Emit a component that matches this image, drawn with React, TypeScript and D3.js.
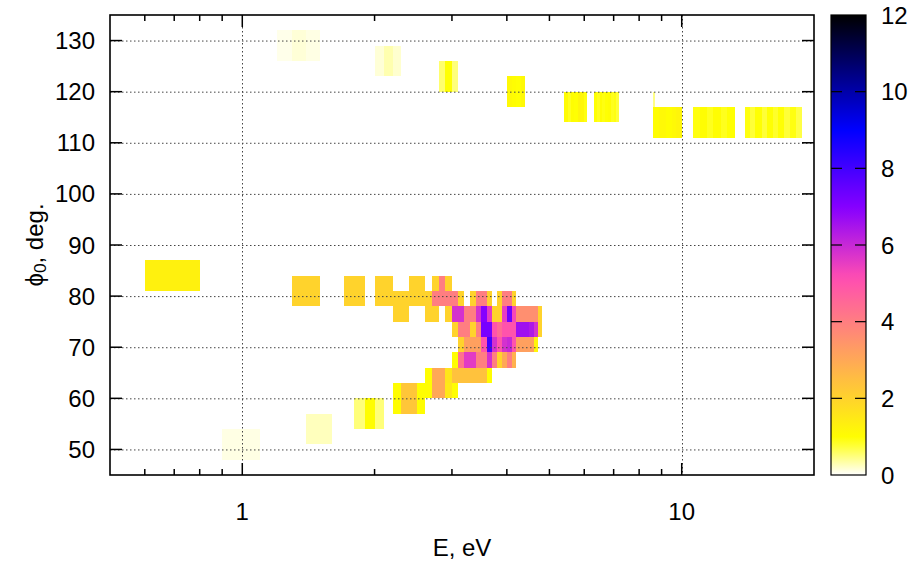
import React from 'react';
import * as d3 from 'd3';

// ---------- data ----------
const xTicksMajor = [1, 10];
const xTicksMinor = [0.6, 0.7, 0.8, 0.9, 2, 3, 4, 5, 6, 7, 8, 9];
const yTicks = [50, 60, 70, 80, 90, 100, 110, 120, 130];
const cbTicks = [0, 2, 4, 6, 8, 10, 12];

// 6-degree tall blocks: [E start, E end, phi low edge, value]
const lowBranch: [number, number, number, number][] = [
  [0.9, 1.1, 48, 0.1],
  [1.4, 1.6, 51, 0.25],
  [1.8, 1.9, 54, 0.5], [1.9, 2.0, 54, 1.0], [2.0, 2.1, 54, 0.5],
  [2.2, 2.3, 57, 1.0], [2.3, 2.5, 57, 2.3], [2.5, 2.6, 57, 1.0],
];
const midBlocks: [number, number, number, number][] = [
  [0.6, 0.8, 81, 1.3],
  [1.3, 1.5, 78, 2.0], [1.7, 1.9, 78, 2.0], [2.0, 2.2, 78, 2.0],
  [2.2, 2.4, 75, 2.0], [2.4, 2.6, 78, 2.0], [2.6, 2.7, 75, 2.0],
];
const topBranch: [number, number, number, number][] = [
  [1.2, 1.3, 126, 0.08], [1.3, 1.4, 126, 0.15], [1.4, 1.5, 126, 0.1],
  [2.0, 2.1, 123, 0.15], [2.1, 2.2, 123, 0.3], [2.2, 2.3, 123, 0.18],
  [2.8, 2.9, 120, 0.55], [2.9, 3.0, 120, 0.95], [3.0, 3.1, 120, 0.5],
  [4.0, 4.1, 117, 1.1], [4.1, 4.2, 117, 1.0], [4.2, 4.3, 117, 0.95], [4.3, 4.4, 117, 1.1],
];
// stripes at phi 114-120: [E start, E end, value]
const stripes114: [number, number, number][] = [
  [5.4, 5.5, 1.05], [5.5, 5.6, 0.85], [5.6, 5.7, 1.0], [5.7, 5.8, 0.95], [5.8, 5.9, 1.2], [5.9, 6.0, 1.15], [6.0, 6.1, 0.9],
  [6.3, 6.4, 0.95], [6.4, 6.5, 0.85], [6.5, 6.6, 1.0], [6.6, 6.7, 0.9], [6.7, 6.8, 0.95], [6.8, 6.9, 1.0], [6.9, 7.0, 0.85], [7.0, 7.1, 0.9], [7.1, 7.2, 0.75],
];
// stripes at phi 111-117
const stripes111: [number, number, number][] = [
  [8.6, 8.9, 1.0], [8.9, 9.2, 1.1], [9.2, 9.5, 1.0], [9.5, 9.7, 1.1], [9.7, 10.0, 1.2],
  [10.6, 11.0, 0.9], [11.0, 11.4, 1.0], [11.4, 11.8, 0.85], [11.8, 12.3, 1.0], [12.3, 12.7, 0.85], [12.7, 13.2, 0.95],
  [13.9, 14.3, 0.9], [14.3, 14.7, 0.75], [14.7, 15.2, 0.95], [15.2, 15.6, 0.75], [15.6, 16.1, 0.95], [16.1, 16.6, 0.8],
  [16.6, 17.1, 0.95], [17.1, 17.6, 0.75], [17.6, 18.2, 0.9], [18.2, 18.8, 0.7],
];
// 3-degree rows, cells 0.1 eV wide: [E start, value]
const row117: [number, number][] = [[8.6, 0.45]];
const row81: [number, number][] = [[2.7, 2.0], [2.8, 4.0], [2.9, 2.0]];
const row78: [number, number][] = [[2.7, 4.0], [2.8, 4.0], [2.9, 4.0], [3.0, 4.0], [3.1, 2.0], [3.3, 2.0], [3.4, 4.0], [3.5, 4.0], [3.6, 2.0], [3.8, 2.0], [3.9, 4.0], [4.0, 4.0], [4.1, 2.0]];
const row75: [number, number][] = [[2.7, 2.0], [2.9, 2.0], [3.0, 5.8], [3.1, 5.8], [3.2, 4.0], [3.3, 4.0], [3.4, 5.8], [3.5, 7.0], [3.6, 5.6], [3.7, 2.0], [3.8, 2.0], [3.9, 5.5], [4.0, 7.3], [4.1, 5.3], [4.2, 3.6], [4.3, 3.6], [4.4, 3.6], [4.5, 3.6], [4.6, 3.6], [4.7, 2.0]];
const row72: [number, number][] = [[3.0, 2.0], [3.1, 4.0], [3.2, 4.0], [3.3, 2.0], [3.4, 4.0], [3.5, 7.2], [3.6, 7.2], [3.7, 5.0], [3.8, 4.5], [3.9, 5.0], [4.0, 5.0], [4.1, 5.0], [4.2, 6.6], [4.3, 6.6], [4.4, 6.6], [4.5, 6.4], [4.6, 5.8], [4.7, 2.0]];
const row69: [number, number][] = [[3.1, 2.0], [3.2, 3.2], [3.3, 3.2], [3.4, 3.2], [3.5, 5.0], [3.6, 8.0], [3.7, 5.8], [3.8, 5.0], [3.9, 5.8], [4.0, 6.0], [4.1, 5.0], [4.2, 3.2], [4.3, 3.2], [4.4, 3.2], [4.5, 3.2], [4.6, 1.2]];
const row66: [number, number][] = [[3.0, 1.0], [3.1, 4.3], [3.2, 5.6], [3.3, 5.6], [3.4, 4.0], [3.5, 4.0], [3.6, 5.8], [3.7, 4.0], [3.8, 2.0], [3.9, 3.0], [4.0, 4.0], [4.1, 2.8]];
const row63: [number, number][] = [[2.6, 1.0], [2.7, 3.0], [2.8, 3.0], [2.9, 1.6], [3.0, 2.4], [3.1, 2.4], [3.2, 2.4], [3.3, 2.4], [3.4, 2.4], [3.5, 2.4], [3.6, 1.0]];
const row60: [number, number][] = [[2.6, 1.0], [2.7, 3.0], [2.8, 3.0], [2.9, 1.5], [3.0, 1.0]];

const rows: [number, [number, number][]][] = [
  [117, row117], [81, row81], [78, row78], [75, row75], [72, row72],
  [69, row69], [66, row66], [63, row63], [60, row60],
];

// ---------- layout ----------
const W = 922, H = 563;
const L = 110, R = 814, T = 15, B = 475;
const CB_L = 831, CB_R = 866;
const FONT = "'Liberation Sans', Arial, Helvetica, sans-serif";
const FS = 24;

const x = d3.scaleLog().domain([0.5, 20]).range([L, R]);
const y = d3.scaleLinear().domain([45, 135]).range([B, T]);
const cb = d3.scaleLinear().domain([0, 12]).range([B, T]);

// gnuplot rgbformulae 30,31,32, negative
function palette(v: number): string {
  const c = (t: number) => Math.max(0, Math.min(1, t));
  const g0 = 1 - c(v / 12);
  const r = c(g0 / 0.32 - 0.78125);
  const g = c(2 * g0 - 0.84);
  let b: number;
  if (g0 < 0.25) b = 4 * g0;
  else if (g0 < 0.42) b = 1;
  else if (g0 < 0.92) b = -2 * g0 + 1.84;
  else b = g0 / 0.08 - 11.5;
  b = c(b);
  return d3.rgb(r * 255, g * 255, b * 255).formatHex();
}

type Cell = { e0: number; e1: number; p0: number; p1: number; v: number };

function buildCells(): Cell[] {
  const cells: Cell[] = [];
  for (const [e0, e1, p, v] of [...lowBranch, ...midBlocks, ...topBranch]) cells.push({ e0, e1, p0: p, p1: p + 6, v });
  for (const [e0, e1, v] of stripes114) cells.push({ e0, e1, p0: 114, p1: 120, v });
  for (const [e0, e1, v] of stripes111) cells.push({ e0, e1, p0: 111, p1: 117, v });
  for (const [p, arr] of rows) for (const [e, v] of arr) cells.push({ e0: e, e1: +(e + 0.1).toFixed(2), p0: p, p1: p + 3, v });
  return cells;
}

export default function App() {
  const cells = buildCells();
  const gridStyle = { stroke: '#444', strokeWidth: 1, strokeDasharray: '1.5,2.5' };
  const stops = d3.range(0, 12.01, 0.25);
  return (
    <svg width={W} height={H} style={{ position: 'absolute', left: 0, top: 0, background: '#fff' }} fontFamily={FONT}>
      <defs>
        <linearGradient id="cbgrad" x1="0" y1="1" x2="0" y2="0">
          {stops.map((v) => (
            <stop key={v} offset={v / 12} stopColor={palette(v)} />
          ))}
        </linearGradient>
      </defs>
      <rect x={0} y={0} width={W} height={H} fill="#fff" />
      {/* cells */}
      <g>
        {cells.map((c, i) => {
          const x0 = Math.round(x(c.e0)), x1 = Math.round(x(c.e1));
          const y0 = Math.round(y(c.p1)), y1 = Math.round(y(c.p0));
          return <rect key={i} x={x0} y={y0} width={x1 - x0} height={y1 - y0} fill={palette(c.v)} />;
        })}
      </g>
      {/* grid */}
      <g>
        {yTicks.map((t) => (
          <line key={'gy' + t} x1={L} x2={R} y1={y(t) + 0.5} y2={y(t) + 0.5} style={gridStyle} />
        ))}
        {xTicksMajor.map((t) => (
          <line key={'gx' + t} x1={Math.round(x(t)) + 0.5} x2={Math.round(x(t)) + 0.5} y1={T} y2={B} style={gridStyle} />
        ))}
      </g>
      {/* ticks */}
      <g stroke="#000" strokeWidth={1.5}>
        {yTicks.map((t) => (
          <g key={'ty' + t}>
            <line x1={L} x2={L + 12} y1={y(t)} y2={y(t)} />
            <line x1={R} x2={R - 12} y1={y(t)} y2={y(t)} />
          </g>
        ))}
        {xTicksMajor.map((t) => (
          <g key={'tx' + t}>
            <line x1={x(t)} x2={x(t)} y1={B} y2={B - 12} />
            <line x1={x(t)} x2={x(t)} y1={T} y2={T + 12} />
          </g>
        ))}
        {xTicksMinor.map((t) => (
          <g key={'tm' + t}>
            <line x1={x(t)} x2={x(t)} y1={B} y2={B - 6} />
            <line x1={x(t)} x2={x(t)} y1={T} y2={T + 6} />
          </g>
        ))}
      </g>
      <rect x={L} y={T} width={R - L} height={B - T} fill="none" stroke="#000" strokeWidth={1.6} />
      {/* tick labels */}
      <g fontSize={FS} fill="#000">
        {yTicks.map((t) => (
          <text key={'ly' + t} x={95} y={y(t)} textAnchor="end" dominantBaseline="central">{t}</text>
        ))}
        {xTicksMajor.map((t) => (
          <text key={'lx' + t} x={x(t)} y={511} textAnchor="middle" dominantBaseline="central">{t}</text>
        ))}
        <text x={(L + R) / 2} y={547} textAnchor="middle" dominantBaseline="central">E, eV</text>
        <text transform={`translate(34,${(T + B) / 2}) rotate(-90)`} textAnchor="middle" dominantBaseline="central">
          ϕ<tspan fontSize={FS * 0.72} dy={6}>0</tspan><tspan dy={-6}>, deg.</tspan>
        </text>
      </g>
      {/* colorbar */}
      <rect x={CB_L} y={T} width={CB_R - CB_L} height={B - T} fill="url(#cbgrad)" stroke="#000" strokeWidth={1.2} />
      <g stroke="#000" strokeWidth={1.2}>
        {cbTicks.filter((t) => t > 0 && t < 12).map((t) => (
          <g key={'cbt' + t}>
            <line x1={CB_L} x2={CB_L + 11} y1={cb(t)} y2={cb(t)} />
            <line x1={CB_R} x2={CB_R - 11} y1={cb(t)} y2={cb(t)} />
          </g>
        ))}
      </g>
      <g fontSize={FS} fill="#000">
        {cbTicks.map((t) => (
          <text key={'cbl' + t} x={881} y={cb(t)} dominantBaseline="central">{t}</text>
        ))}
      </g>
    </svg>
  );
}
